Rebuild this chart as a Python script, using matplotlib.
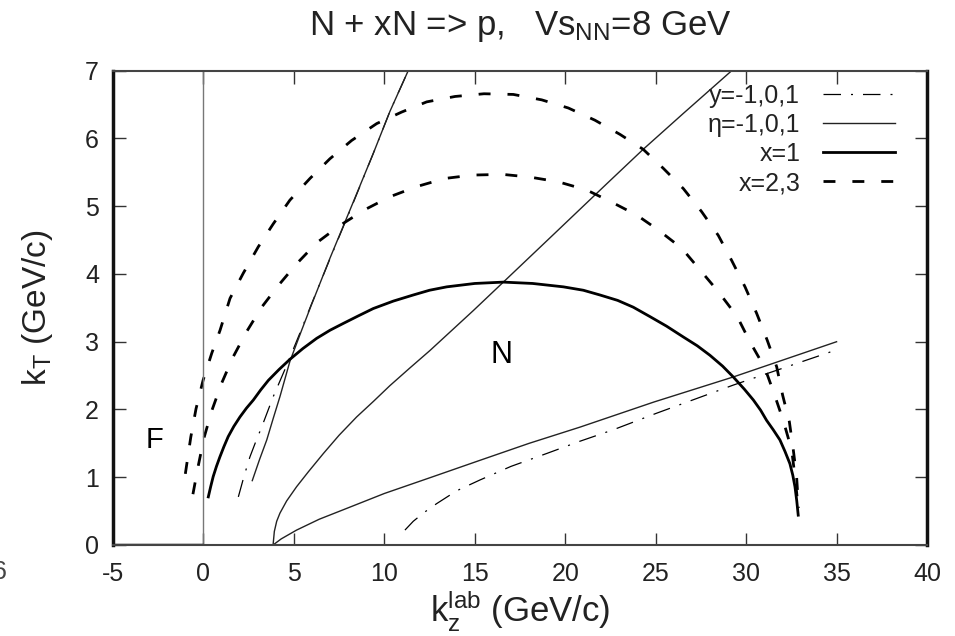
import matplotlib
matplotlib.use("Agg")
import matplotlib.pyplot as plt

plt.rcParams['font.family'] = ['Liberation Sans', 'DejaVu Sans']
plt.rcParams['mathtext.fontset'] = 'custom'
plt.rcParams['mathtext.rm'] = 'Liberation Sans'
plt.rcParams['mathtext.it'] = 'Liberation Sans:italic'
plt.rcParams['axes.unicode_minus'] = False

# x=1 ellipse (kz_lab, kT)
x1_kz = [0.27, 0.40, 0.54, 0.72, 0.91, 1.13, 1.37, 1.68, 2.02, 2.38, 2.76, 3.17, 3.59,
         4.18, 4.78, 5.5, 6.26, 7.0, 7.73, 8.55, 9.39, 10.5, 11.6, 12.5, 13.45, 15.0,
         16.58, 18.2, 19.9, 21.0, 21.92, 22.9, 23.76, 24.69, 25.6, 26.53, 27.3, 28.0,
         28.7, 29.29, 29.9, 30.40, 30.8, 31.13, 31.5, 31.87, 32.15, 32.42, 32.58,
         32.70, 32.80, 32.88]
x1_kt = [0.71, 0.86, 1.01, 1.16, 1.30, 1.45, 1.60, 1.75, 1.89, 2.02, 2.14, 2.29, 2.43,
         2.59, 2.74, 2.90, 3.05, 3.17, 3.27, 3.38, 3.49, 3.60, 3.69, 3.76, 3.81, 3.86,
         3.88, 3.86, 3.81, 3.76, 3.69, 3.61, 3.51, 3.37, 3.23, 3.07, 2.94, 2.80,
         2.64, 2.48, 2.30, 2.14, 1.99, 1.84, 1.70, 1.55, 1.38, 1.20, 1.03,
         0.86, 0.65, 0.44]

# x=2 ellipse
x2_kz = [-0.58, -0.30, 0.03, 0.46, 1.01, 1.63, 2.39, 3.22, 4.14, 5.15, 6.26, 7.51, 8.93,
         10.31, 11.79, 13.35, 14.88, 16.54, 18.05, 19.62, 21.18, 22.57, 23.95, 25.14,
         26.44, 27.45, 28.46, 29.51, 30.21, 31.04, 31.54, 32.05, 32.52, 32.70, 32.88]
x2_kt = [0.75, 1.15, 1.58, 1.98, 2.39, 2.77, 3.15, 3.51, 3.83, 4.15, 4.46, 4.71, 4.95,
         5.14, 5.29, 5.41, 5.46, 5.47, 5.43, 5.36, 5.24, 5.06, 4.87, 4.65,
         4.38, 4.06, 3.74, 3.37, 3.00, 2.61, 2.24, 1.84, 1.40, 1.01, 0.55]

# x=3 ellipse
x3_kz = [-1.0, -0.70, -0.41, -0.02, 0.46, 0.92, 1.47, 2.20, 3.03, 3.86, 4.78, 5.89, 6.99,
         8.19, 9.58, 10.96, 12.34, 13.91, 15.51, 17.13, 18.70, 20.17, 21.64, 23.03, 24.31,
         25.42, 26.53, 27.54, 28.46, 29.20, 29.94, 30.58, 31.17, 31.69, 32.02, 32.39,
         32.61, 32.79, 32.90]
x3_kt = [1.05, 1.59, 2.01, 2.43, 2.83, 3.17, 3.64, 4.01, 4.40, 4.74, 5.09, 5.41, 5.70,
         5.97, 6.22, 6.39, 6.54, 6.62, 6.66, 6.65, 6.57, 6.45, 6.27, 6.06, 5.84,
         5.56, 5.26, 4.92, 4.57, 4.20, 3.81, 3.42, 3.02, 2.63, 2.21, 1.82,
         1.40, 1.01, 0.55]

# pseudorapidity lines, eta = 1, 0, -1
eta1_kz = [2.70, 3.10, 3.50, 3.86, 4.23, 4.78, 5.43, 5.95, 6.99, 8.28, 9.39, 10.31, 11.32]
eta1_kt = [0.95, 1.26, 1.55, 1.87, 2.19, 2.71, 3.17, 3.53, 4.23, 5.06, 5.78, 6.40, 7.0]
eta0_kz = [3.85, 3.92, 4.05, 4.23, 4.6, 5.15, 5.8, 6.63, 7.5, 8.47, 9.4, 10.3, 11.4,
           12.52, 14.92, 16.58, 19.34, 22.29, 24.31, 26.53, 29.2]
eta0_kt = [0.0, 0.20, 0.35, 0.47, 0.65, 0.86, 1.08, 1.35, 1.62, 1.89, 2.12, 2.35, 2.61,
           2.87, 3.46, 3.88, 4.58, 5.33, 5.84, 6.37, 7.0]
etam1_kz = [3.85, 4.3, 5.15, 6.4, 7.73, 10.0, 12.6, 15.29, 18.0, 20.82, 24.9, 29.29, 35.0]
etam1_kt = [0.0, 0.09, 0.22, 0.38, 0.52, 0.76, 1.00, 1.25, 1.50, 1.74, 2.11, 2.48, 3.0]

# rapidity lines, y = 1, -1
y1_kz = [1.93, 2.25, 2.57, 2.90, 3.22, 3.86, 4.60, 5.43, 5.95, 6.99, 8.28, 9.39, 10.31, 11.32]
y1_kt = [0.71, 1.02, 1.30, 1.53, 1.74, 2.19, 2.65, 3.19, 3.54, 4.22, 5.05, 5.78, 6.40, 7.0]
ym1_kz = [11.14, 11.6, 12.2, 12.89, 14.0, 15.29, 17.0, 18.97, 20.8, 22.65, 25.0, 29.29, 35.0]
ym1_kt = [0.22, 0.35, 0.48, 0.61, 0.80, 0.96, 1.16, 1.35, 1.53, 1.70, 1.94, 2.36, 2.88]

x_ticks = [-5, 0, 5, 10, 15, 20, 25, 30, 35, 40]
y_ticks = [0, 1, 2, 3, 4, 5, 6, 7]

fig = plt.figure(figsize=(9.55, 6.36), dpi=100)
ax = fig.add_axes([0.1183, 0.1431, 0.8524, 0.7457])

dashdot = (0, (14, 8, 1.6, 8))
dashed = (0, (4.3, 6.1))

ax.plot(y1_kz, y1_kt, color='black', lw=0.9, ls=dashdot, label='y=-1,0,1')
ax.plot(ym1_kz, ym1_kt, color='black', lw=0.9, ls=dashdot)
ax.plot(eta1_kz, eta1_kt, color='#222222', lw=1.0, label='η=-1,0,1')
ax.plot(eta0_kz, eta0_kt, color='#222222', lw=1.0)
ax.plot(etam1_kz, etam1_kt, color='#222222', lw=1.0)
ax.plot(x1_kz, x1_kt, color='black', lw=2.0, label='x=1')
ax.plot(x2_kz, x2_kt, color='black', lw=2.0, ls=dashed, label='x=2,3')
ax.plot(x3_kz, x3_kt, color='black', lw=2.0, ls=dashed)

# kz = 0 marker and the kT = 0 stretch left of it
ax.axvline(0, color='#777777', lw=1.0)
ax.plot([-5, 0], [0, 0], color='black', lw=2.5, solid_capstyle='butt')

ax.text(-2.7, 1.55, 'F', fontsize=21, ha='center', va='center')
ax.text(16.5, 2.8, 'N', fontsize=22, ha='center', va='center')

ax.set_xlim(-5, 40)
ax.set_ylim(0, 7)
ax.set_xticks(x_ticks)
ax.set_yticks(y_ticks)
ax.tick_params(direction='in', length=9, width=1.0, labelsize=18, pad=10,
               top=True, right=True, colors='#333333', labelcolor='#222222')
ax.tick_params(axis='x', pad=12)

for side in ['left', 'right']:
    ax.spines[side].set_linewidth(2.5)
    ax.spines[side].set_color('#111111')
for side in ['top', 'bottom']:
    ax.spines[side].set_linewidth(1.5)
    ax.spines[side].set_color('#444444')

ax.set_xlabel(r'k$_{\rm z}^{\rm lab}$ (GeV/c)', fontsize=25, labelpad=2, color='#222222')
ax.set_ylabel(r'k$_{\rm T}$ (GeV/c)', fontsize=24, labelpad=22, color='#222222')
ax.set_title(r'N + xN => p,   Vs$_{\rm NN}$=8 GeV', fontsize=25, pad=26, color='#222222')

leg = ax.legend(loc='upper right', bbox_to_anchor=(0.961, 0.972), frameon=False,
                markerfirst=False, fontsize=18, handlelength=2.9, handletextpad=0.9,
                labelspacing=0.2, borderpad=0, borderaxespad=0)
for t in leg.get_texts():
    t.set_color('#222222')

# stray label from the neighbouring panel
fig.text(0.0, 0.10, '6', fontsize=18, ha='center', va='center', color='#444444')

fig.savefig('out.png', dpi=100)
